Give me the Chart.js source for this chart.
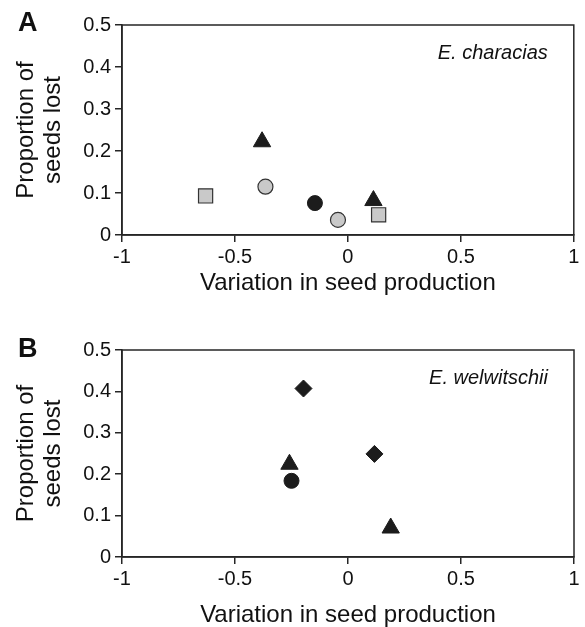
<!DOCTYPE html>
<html>
<head>
<meta charset="utf-8">
<script src="https://cdn.jsdelivr.net/npm/chart.js@4/dist/chart.umd.min.js"></script>
<style>
  html, body { margin: 0; padding: 0; background: #fff; }
  body { width: 585px; height: 627px; position: relative; overflow: hidden; }
  canvas { position: absolute; left: 0; }
  #cA { top: 0; }
  #cB { top: 300px; }
</style>
</head>
<body>
<canvas id="cA" width="585" height="300"></canvas>
<canvas id="cB" width="585" height="327"></canvas>
<script>
// ---- Data ----
const xTickLabels = ['-1', '-0.5', '0', '0.5', '1'];
const yTickLabels = ['0', '0.1', '0.2', '0.3', '0.4', '0.5'];
const xAxisTitle = 'Variation in seed production';
const yAxisTitle = ['Proportion of', 'seeds lost'];
const panelLetters = ['A', 'B'];
const speciesNames = ['E. characias', 'E. welwitschii'];

// Panel A: E. characias
const aGraySquares   = [[-0.63, 0.093], [0.136, 0.048]];
const aGrayCircles   = [[-0.365, 0.115], [-0.044, 0.036]];
const aBlackCircles  = [[-0.146, 0.076]];
const aBlackTriangles = [[-0.38, 0.222], [0.113, 0.082]];

// Panel B: E. welwitschii
const bBlackDiamonds  = [[-0.197, 0.407], [0.117, 0.249]];
const bBlackTriangles = [[-0.259, 0.224], [0.189, 0.07]];
const bBlackCircles   = [[-0.25, 0.184]];

const toPts = arr => arr.map(p => ({ x: p[0], y: p[1] }));

const FONT = "'Liberation Sans', Arial, sans-serif";
const BLACK = '#1c1c1c';
const GRAY = '#c9c9c9';
const AXIS = '#262626';

function ds(data, style, radius, fill, border, bw) {
  return {
    data: toPts(data),
    pointStyle: style,
    pointRadius: radius,
    pointHoverRadius: radius,
    backgroundColor: fill,
    borderColor: border,
    borderWidth: bw,
    showLine: false
  };
}

const boxAndLabels = {
  id: 'boxAndLabels',
  afterDraw(chart, args, opts) {
    const { ctx, chartArea: a } = chart;
    ctx.save();
    ctx.strokeStyle = AXIS;
    ctx.lineWidth = 1.5;
    ctx.strokeRect(a.left, a.top, a.right - a.left, a.bottom - a.top);
    // species name
    ctx.fillStyle = '#111';
    ctx.font = 'italic 20px ' + FONT;
    ctx.textAlign = 'right';
    ctx.textBaseline = 'middle';
    ctx.fillText(opts.species, a.right - 26, a.top + 28);
    // panel letter
    ctx.font = 'bold 27px ' + FONT;
    ctx.textAlign = 'left';
    ctx.fillText(opts.letter, 18, a.top + opts.letterDy);
    ctx.restore();
  }
};

function makeOptions(cfg) {
  return {
    responsive: false,
    animation: false,
    devicePixelRatio: 1,
    layout: { padding: { left: 0, right: 7, top: cfg.padTop, bottom: 0 } },
    plugins: {
      legend: { display: false },
      tooltip: { enabled: false },
      boxAndLabels: { species: cfg.species, letter: cfg.letter, letterDy: cfg.letterDy }
    },
    scales: {
      x: {
        type: 'linear',
        min: -1, max: 1,
        afterFit(s) { s.height = cfg.xHeight; },
        ticks: {
          stepSize: 0.5,
          padding: 3,
          color: '#111',
          font: { family: FONT, size: 20 },
          maxRotation: 0,
          callback: (v, i) => xTickLabels[i]
        },
        grid: { drawOnChartArea: false, drawTicks: true, tickLength: 7, color: AXIS, lineWidth: 1.5 },
        border: { display: true, color: AXIS, width: 1.5 },
        title: {
          display: true, text: xAxisTitle, color: '#111',
          font: { family: FONT, size: 24, lineHeight: cfg.xTitleLH },
          padding: { top: 0, bottom: cfg.xTitlePad }
        }
      },
      y: {
        type: 'linear',
        min: 0, max: 0.5,
        afterFit(s) { s.width = 122; },
        ticks: {
          stepSize: 0.1,
          padding: 4,
          color: '#111',
          font: { family: FONT, size: 20 },
          callback: (v, i) => yTickLabels[i]
        },
        grid: { drawOnChartArea: false, drawTicks: true, tickLength: 7, color: AXIS, lineWidth: 1.5 },
        border: { display: true, color: AXIS, width: 1.5 },
        title: {
          display: true, text: yAxisTitle, color: '#111',
          font: { family: FONT, size: 24, lineHeight: 1.125 },
          padding: { top: 13, bottom: 0 }
        }
      }
    }
  };
}

new Chart(document.getElementById('cA'), {
  type: 'scatter',
  data: {
    datasets: [
      ds(aGraySquares, 'rect', 10, GRAY, '#333', 1.2),
      ds(aGrayCircles, 'circle', 7.5, GRAY, '#333', 1.2),
      ds(aBlackCircles, 'circle', 7.5, BLACK, BLACK, 1),
      ds(aBlackTriangles, 'triangle', 10, BLACK, BLACK, 1)
    ]
  },
  options: makeOptions({ padTop: 25, xHeight: 65, xTitlePad: 2, xTitleLH: 1.2, species: speciesNames[0], letter: panelLetters[0], letterDy: -1 }),
  plugins: [boxAndLabels]
});

new Chart(document.getElementById('cB'), {
  type: 'scatter',
  data: {
    datasets: [
      ds(bBlackCircles, 'circle', 7.5, BLACK, BLACK, 1),
      ds(bBlackDiamonds, 'rectRot', 8.5, BLACK, BLACK, 1),
      ds(bBlackTriangles, 'triangle', 10, BLACK, BLACK, 1)
    ]
  },
  options: makeOptions({ padTop: 50, xHeight: 70, xTitlePad: 0, xTitleLH: 1.0, species: speciesNames[1], letter: panelLetters[1], letterDy: 0 }),
  plugins: [boxAndLabels]
});
</script>
</body>
</html>
